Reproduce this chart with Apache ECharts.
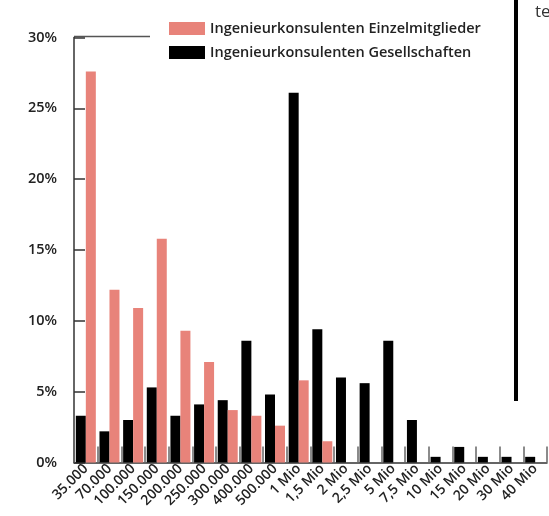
<!DOCTYPE html>
<html>
<head>
<meta charset="utf-8">
<script src="https://cdn.jsdelivr.net/npm/echarts@6/dist/echarts.min.js"></script>
<style>
html,body{margin:0;padding:0;background:#fff;}
#chart{width:549px;height:516px;}
</style>
</head>
<body>
<div id="chart"></div>
<script>
const categories = ['35.000','70.000','100.000','150.000','200.000','250.000','300.000','400.000','500.000','1 Mio','1,5 Mio','2 Mio','2,5 Mio','5 Mio','7,5 Mio','10 Mio','15 Mio','20 Mio','30 Mio','40 Mio'];
const seriesNames = ['Ingenieurkonsulenten Einzelmitglieder','Ingenieurkonsulenten Gesellschaften'];
const einzelmitglieder = [27.6,12.2,10.9,15.8,9.3,7.1,3.7,3.3,2.6,5.8,1.5,null,null,null,null,null,null,null,null,null];
const gesellschaften = [3.3,2.2,3.0,5.3,3.3,4.1,4.4,8.6,4.8,26.1,9.4,6.0,5.6,8.6,3.0,0.4,1.1,0.4,0.4,0.4];
const yTicks = [0,5,10,15,20,25,30];

const FONT = '"Open Sans", "Noto Sans", sans-serif';
const chart = echarts.init(document.getElementById('chart'));
chart.setOption({
  animation:false,
  textStyle:{fontFamily:FONT},
  grid:{left:74,right:2,top:37.5,bottom:53.5,containLabel:false},
  legend:{
    data:seriesNames,
    orient:'vertical',left:169,top:21,padding:0,
    itemWidth:36,itemHeight:13,itemGap:9,icon:'rect',
    textStyle:{fontSize:14.5,fontWeight:600,color:'#222',fontFamily:FONT}
  },
  xAxis:{
    type:'category',data:categories,
    axisLine:{lineStyle:{color:'#333',width:1.5}},
    axisTick:{show:true,inside:true,length:16,interval:0,lineStyle:{color:'#666',width:1.5}},
    axisLabel:{rotate:45,interval:0,fontSize:14,fontWeight:600,color:'#222',margin:4,fontFamily:FONT}
  },
  yAxis:{
    type:'value',min:yTicks[0],max:yTicks[yTicks.length-1],interval:5,
    axisLine:{show:true,lineStyle:{color:'#333',width:1.5}},
    axisTick:{show:true,inside:true,length:11,lineStyle:{color:'#333',width:1.5}},
    splitLine:{show:false},
    axisLabel:{formatter:'{value}%',fontSize:14.5,fontWeight:600,color:'#222',margin:17,fontFamily:FONT}
  },
  series:[
    {name:seriesNames[1],type:'bar',data:gesellschaften,barWidth:10,barGap:'0%',itemStyle:{color:'#000'}},
    {name:seriesNames[0],type:'bar',data:einzelmitglieder,barWidth:10,barGap:'0%',itemStyle:{color:'#E8837A'}}
  ]
});
// decorations: top border line and cropped-edge elements of the source image
const yTop = chart.convertToPixel({yAxisIndex:0}, yTicks[yTicks.length-1]);
chart.setOption({
  graphic:[
    {type:'line',shape:{x1:74,y1:yTop-1,x2:150,y2:yTop-1},style:{stroke:'#555',lineWidth:1.5}},
    {type:'rect',shape:{x:514,y:0,width:4,height:401},style:{fill:'#000'}},
    {type:'text',left:535,top:4,style:{text:'te',fontSize:17,fill:'#333',fontFamily:FONT}}
  ]
});
</script>
</body>
</html>
